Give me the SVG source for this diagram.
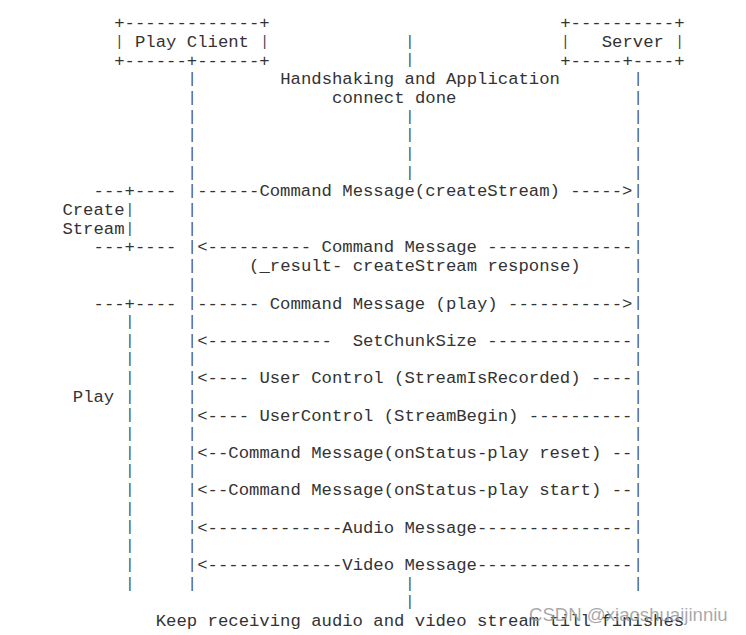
<svg xmlns="http://www.w3.org/2000/svg" width="746" height="635" viewBox="0 0 746 635" xml:space="preserve">
<style>
.t{font-family:"Liberation Mono","Courier New",monospace;font-size:17.28px;fill:#333;white-space:pre}
.b{font-family:"Liberation Mono","Courier New",monospace;font-size:14.5px;fill:#444;white-space:pre}
.wm{font-family:"Liberation Sans",Arial,sans-serif;font-size:18.6px;fill:#999;fill-opacity:0.85}
</style>
<rect width="746" height="635" fill="#fff"/>
<g id="client">
<text class="t" x="114.26" y="28.32">+-------------+</text>
<text class="b" x="115.10" y="45.8">|</text>
<text class="t" x="135.00" y="47">Play Client</text>
<text class="b" x="260.31" y="45.8">|</text>
<text class="t" x="114.26" y="65.68">+------+------+</text>
</g>
<g id="server">
<text class="t" x="560.26" y="28.32">+----------+</text>
<text class="b" x="561.10" y="45.8">|</text>
<text class="t" x="601.75" y="47">Server</text>
<text class="b" x="675.19" y="45.8">|</text>
<text class="t" x="560.26" y="65.68">+-----+----+</text>
</g>
<g id="notes">
<text class="t" x="280.21" y="84.36">Handshaking and Application</text>
<text class="t" x="332.07" y="103.04">connect done</text>
<text class="t" x="249.10" y="271.16">(_result- createStream response)</text>
<text class="t" x="155.75" y="626.08">Keep receiving audio and video stream till finishes</text>
</g>
<g id="phases">
<text class="t" x="93.52" y="196.44">---+----</text>
<text class="t" x="62.4" y="215.12">Create</text>
<text class="b" x="125.47" y="213.92">|</text>
<text class="t" x="62.4" y="233.80">Stream</text>
<text class="b" x="125.47" y="232.60">|</text>
<text class="t" x="93.52" y="252.48">---+----</text>
<text class="t" x="93.52" y="308.52">---+----</text>
<text class="t" x="72.77" y="401.92">Play</text>
<text class="b" x="125.47" y="400.72">|</text>
</g>
<g id="lifelines">
<text class="b" x="405.52" y="45.8">|</text>
<text class="b" x="405.52" y="64.48">|</text>
<text class="b" x="187.70 633.70" y="83.16">||</text>
<text class="b" x="187.70 633.70" y="101.84">||</text>
<text class="b" x="187.70 405.52 633.70" y="120.52">|||</text>
<text class="b" x="187.70 405.52 633.70" y="139.20">|||</text>
<text class="b" x="187.70 405.52 633.70" y="157.88">|||</text>
<text class="b" x="187.70 405.52 633.70" y="176.56">|||</text>
<text class="b" x="187.70 633.70" y="213.92">||</text>
<text class="b" x="187.70 633.70" y="232.60">||</text>
<text class="b" x="187.70 633.70" y="269.96">||</text>
<text class="b" x="187.70 633.70" y="288.64">||</text>
<text class="b" x="125.47 187.70 633.70" y="326.00">|||</text>
<text class="b" x="125.47" y="344.68">|</text>
<text class="b" x="125.47 187.70 633.70" y="363.36">|||</text>
<text class="b" x="125.47" y="382.04">|</text>
<text class="b" x="187.70 633.70" y="400.72">||</text>
<text class="b" x="125.47" y="419.40">|</text>
<text class="b" x="125.47 187.70 633.70" y="438.08">|||</text>
<text class="b" x="125.47" y="456.76">|</text>
<text class="b" x="125.47 187.70 633.70" y="475.44">|||</text>
<text class="b" x="125.47" y="494.12">|</text>
<text class="b" x="125.47 187.70 633.70" y="512.80">|||</text>
<text class="b" x="125.47" y="531.48">|</text>
<text class="b" x="125.47 187.70 633.70" y="550.16">|||</text>
<text class="b" x="125.47" y="568.84">|</text>
<text class="b" x="125.47 187.70 405.52 633.70" y="587.52">||||</text>
<text class="b" x="405.52" y="606.20">|</text>
</g>
<g id="connectors">
<g><text class="b" x="187.70" y="195.24">|</text><text class="t" x="197.24" y="196.44">------Command Message(createStream) -----&gt;</text><text class="b" x="633.70" y="195.24">|</text></g>
<g><text class="b" x="187.70" y="251.28">|</text><text class="t" x="197.24" y="252.48">&lt;---------- Command Message --------------</text><text class="b" x="633.70" y="251.28">|</text></g>
<g><text class="b" x="187.70" y="307.32">|</text><text class="t" x="197.24" y="308.52">------ Command Message (play) -----------&gt;</text><text class="b" x="633.70" y="307.32">|</text></g>
<g><text class="b" x="187.70" y="344.68">|</text><text class="t" x="197.24" y="345.88">&lt;------------  SetChunkSize --------------</text><text class="b" x="633.70" y="344.68">|</text></g>
<g><text class="b" x="187.70" y="382.04">|</text><text class="t" x="197.24" y="383.24">&lt;---- User Control (StreamIsRecorded) ----</text><text class="b" x="633.70" y="382.04">|</text></g>
<g><text class="b" x="187.70" y="419.40">|</text><text class="t" x="197.24" y="420.60">&lt;---- UserControl (StreamBegin) ----------</text><text class="b" x="633.70" y="419.40">|</text></g>
<g><text class="b" x="187.70" y="456.76">|</text><text class="t" x="197.24" y="457.96">&lt;--Command Message(onStatus-play reset) --</text><text class="b" x="633.70" y="456.76">|</text></g>
<g><text class="b" x="187.70" y="494.12">|</text><text class="t" x="197.24" y="495.32">&lt;--Command Message(onStatus-play start) --</text><text class="b" x="633.70" y="494.12">|</text></g>
<g><text class="b" x="187.70" y="531.48">|</text><text class="t" x="197.24" y="532.68">&lt;-------------Audio Message---------------</text><text class="b" x="633.70" y="531.48">|</text></g>
<g><text class="b" x="187.70" y="568.84">|</text><text class="t" x="197.24" y="570.04">&lt;-------------Video Message---------------</text><text class="b" x="633.70" y="568.84">|</text></g>
</g>
<text class="wm" x="529" y="621">CSDN @xiaoshuaijinniu</text>
</svg>
